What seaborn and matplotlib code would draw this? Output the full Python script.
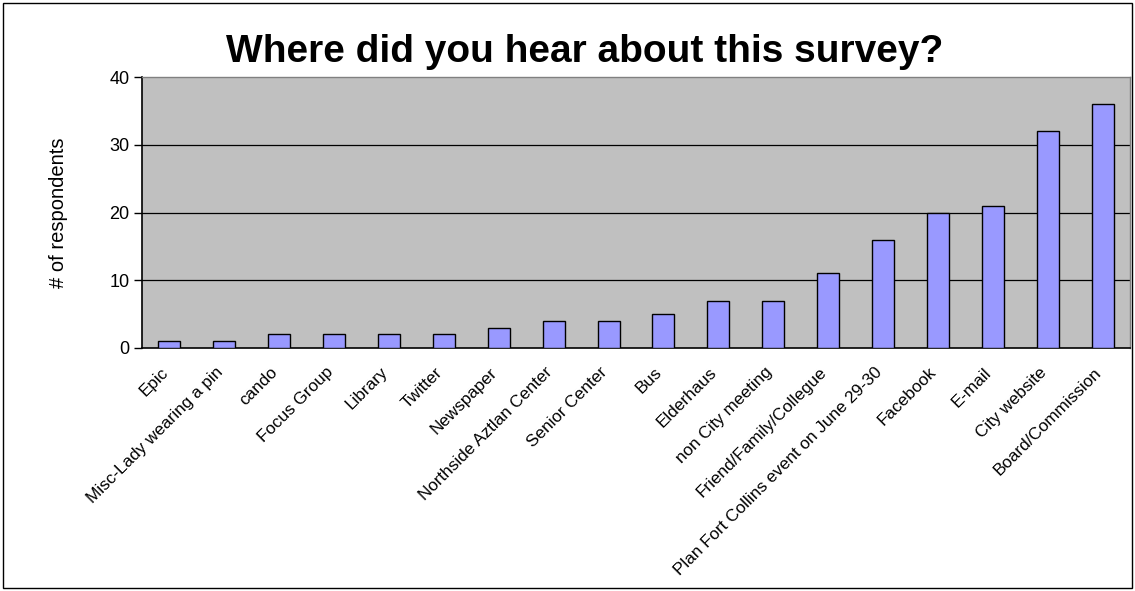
import matplotlib
matplotlib.use("Agg")
import matplotlib.pyplot as plt
import matplotlib.transforms as mtransforms
import seaborn as sns
import pandas as pd
from matplotlib.patches import Rectangle

categories = ["Epic", "Misc-Lady wearing a pin", "cando", "Focus Group", "Library",
              "Twitter", "Newspaper", "Northside Aztlan Center", "Senior Center", "Bus",
              "Elderhaus", "non City meeting", "Friend/Family/Collegue",
              "Plan Fort Collins event on June 29-30", "Facebook", "E-mail",
              "City website", "Board/Commission"]
counts = [1, 1, 2, 2, 2, 2, 3, 4, 4, 5, 7, 7, 11, 16, 20, 21, 32, 36]
y_ticks = [0, 10, 20, 30, 40]

df = pd.DataFrame({"source": categories, "count": counts})

sns.set_theme(style="white")
plt.rcParams["font.family"] = ["Liberation Sans", "DejaVu Sans"]
plt.rcParams["text.color"] = "black"
plt.rcParams["axes.labelcolor"] = "black"
plt.rcParams["xtick.color"] = "black"
plt.rcParams["ytick.color"] = "black"

fig = plt.figure(figsize=(11.35, 5.91), dpi=100)
ax = fig.add_axes([142 / 1135, 1 - 348 / 591, (1130 - 142) / 1135, (348 - 77) / 591])

sns.barplot(data=df, x="source", y="count", color="#9999FF", width=0.4,
            edgecolor="black", linewidth=1.0, saturation=1, ax=ax, zorder=3)

ax.set_facecolor("#C0C0C0")
ax.set_ylim(0, 40)
ax.set_xlim(-0.5, len(categories) - 0.5)
ax.set_yticks(y_ticks)
ax.set_yticklabels([str(v) for v in y_ticks], fontsize=13)
for v in y_ticks[1:-1]:
    ax.axhline(v, color="black", linewidth=0.9, zorder=1)

ax.set_xticks([i - 0.5 for i in range(len(categories) + 1)], minor=True)
ax.set_xticks(range(len(categories)))
ax.set_xticklabels(categories, rotation=45, ha="right", rotation_mode="anchor", fontsize=12.3)
ax.tick_params(axis="x", which="major", length=0, pad=12)
ax.tick_params(axis="x", which="minor", length=5, width=1, color="black", direction="out")
ax.tick_params(axis="y", length=6, width=1, color="black", direction="out", pad=3, left=True)

shift = mtransforms.ScaledTranslation(-9 / 100, 0, fig.dpi_scale_trans)
for lbl in ax.get_xticklabels():
    lbl.set_transform(lbl.get_transform() + shift)

for side in ["top", "right"]:
    ax.spines[side].set_color("#808080")
    ax.spines[side].set_linewidth(1)
for side in ["left", "bottom"]:
    ax.spines[side].set_color("black")
    ax.spines[side].set_linewidth(1.2)

ax.set_xlabel("")
ax.set_ylabel("# of respondents", fontsize=14.5, labelpad=30)

fig.text(585 / 1135, 1 - 52 / 591, "Where did you hear about this survey?",
         ha="center", va="center", fontsize=28, fontweight="bold", color="black")

fig.patches.append(Rectangle((3 / 1135, 3 / 591), 1 - 6 / 1135, 1 - 6 / 591,
                             transform=fig.transFigure, fill=False,
                             edgecolor="black", linewidth=1))

fig.savefig("out.png", dpi=100, facecolor="white")
